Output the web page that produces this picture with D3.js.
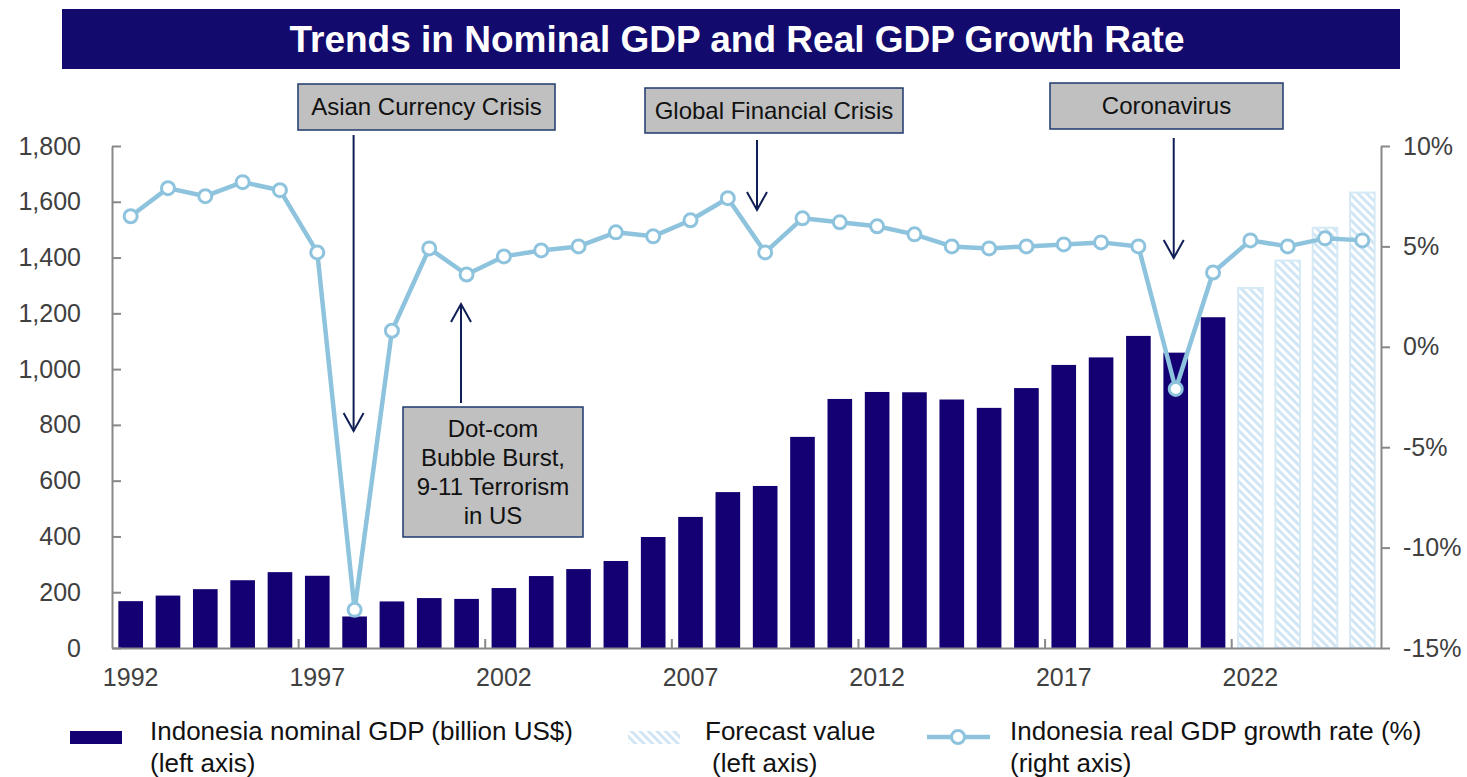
<!DOCTYPE html>
<html>
<head>
<meta charset="utf-8">
<script src="https://cdn.jsdelivr.net/npm/d3@7"></script>
<style>
  body { margin: 0; background: #fff; }
  svg { display: block; font-family: "Liberation Sans", Arial, sans-serif; }
  .axis path, .axis line { stroke: #888; stroke-width: 2; }
  .axis text { fill: #404040; font-size: 25px; font-family: "Liberation Sans", Arial, sans-serif; }
</style>
</head>
<body>
<div id="canvas"></div>
<script>
// ---- DATA ----
var years = d3.range(1992, 2026);
var gdpActual = [168, 188, 211, 243, 272, 259, 113, 167, 179, 176,
                 215, 258, 283, 312, 398, 470, 559, 581, 757, 893,
                 918, 917, 891, 861, 932, 1015, 1042, 1119, 1059, 1186];
var gdpForecast = [1291, 1389, 1507, 1633];
var growth = [6.5, 7.9, 7.5, 8.2, 7.8, 4.7, -13.1, 0.8, 4.9, 3.6,
              4.5, 4.8, 5.0, 5.7, 5.5, 6.3, 7.4, 4.7, 6.4, 6.2,
              6.0, 5.6, 5.0, 4.9, 5.0, 5.1, 5.2, 5.0, -2.1, 3.7,
              5.3, 5.0, 5.4, 5.3];
var labelYears = [1992, 1997, 2002, 2007, 2012, 2017, 2022];
var leftTicks = [0, 200, 400, 600, 800, 1000, 1200, 1400, 1600, 1800];
var rightTicks = [-15, -10, -5, 0, 5, 10];

var gdp = years.map(function(y, i) {
    var forecast = i >= gdpActual.length;
    return { year: y, value: forecast ? gdpForecast[i - gdpActual.length] : gdpActual[i], forecast: forecast };
});
var line = years.map(function(y, i) { return { year: y, value: growth[i] }; });

// ---- CONVENTIONS ----
var W = 1467, H = 777;
var plotLeft = 112, plotRight = 1381, plotTop = 146, plotBottom = 648;

var svg = d3.select('#canvas').append('svg')
    .attr('width', W).attr('height', H);

// diagonal hatch for the forecast bars
var defs = svg.append('defs');
var pat = defs.append('pattern')
    .attr('id', 'hatch')
    .attr('patternUnits', 'userSpaceOnUse')
    .attr('width', 6).attr('height', 6)
    .attr('patternTransform', 'rotate(-45)');
pat.append('rect').attr('width', 6).attr('height', 6).attr('fill', '#ffffff');
pat.append('rect').attr('width', 3).attr('height', 6).attr('fill', '#d0e6f4');

// ---- SCALES ----
var scaleX = d3.scaleBand().domain(years).range([plotLeft, plotRight])
    .paddingInner(0.34).paddingOuter(0.17);
var scaleY = d3.scaleLinear().domain([0, 1800]).range([plotBottom, plotTop]);
var scaleY2 = d3.scaleLinear().domain([-15, 10]).range([plotBottom, plotTop]);
var cx = function(y) { return scaleX(y) + scaleX.bandwidth() / 2; };

// ---- TITLE ----
svg.append('rect').attr('x', 62).attr('y', 9).attr('width', 1338).attr('height', 60)
    .attr('fill', '#130a6e');
svg.append('text').attr('x', 737).attr('y', 52).attr('text-anchor', 'middle')
    .attr('fill', '#fff').attr('font-size', 37).attr('font-weight', 'bold')
    .text('Trends in Nominal GDP and Real GDP Growth Rate');

// ---- BARS ----
svg.append('g').selectAll('rect').data(gdp).enter().append('rect')
    .attr('x', function(d) { return scaleX(d.year); })
    .attr('y', function(d) { return scaleY(d.value); })
    .attr('width', scaleX.bandwidth())
    .attr('height', function(d) { return plotBottom - scaleY(d.value); })
    .attr('fill', function(d) { return d.forecast ? 'url(#hatch)' : '#140072'; })
    .attr('stroke', function(d) { return d.forecast ? '#d6eaf6' : 'none'; })
    .attr('stroke-width', 2);

// ---- AXES ----
var axisL = d3.axisLeft(scaleY).tickValues(leftTicks).tickSize(-9).tickSizeOuter(0)
    .tickPadding(31).tickFormat(d3.format(','));
svg.append('g').attr('class', 'axis').attr('transform', 'translate(' + plotLeft + ',0)').call(axisL);

var axisR = d3.axisRight(scaleY2).tickValues(rightTicks).tickSize(9).tickSizeOuter(0)
    .tickPadding(13).tickFormat(function(d) { return d + '%'; });
svg.append('g').attr('class', 'axis').attr('transform', 'translate(' + plotRight + ',0)').call(axisR);

var axisB = d3.axisBottom(scaleX).tickValues(labelYears).tickSize(0).tickSizeOuter(0).tickPadding(27);
var gB = svg.append('g').attr('class', 'axis').attr('transform', 'translate(0,' + plotBottom + ')').call(axisB);
gB.selectAll('.tick text').attr('dy', '0.45em');
var step = scaleX.step();
gB.selectAll('.mark').data(labelYears.slice(1)).enter().append('line')
    .attr('x1', function(d) { return scaleX(d) - step * 0.17; })
    .attr('x2', function(d) { return scaleX(d) - step * 0.17; })
    .attr('y1', 0).attr('y2', -9);

// ---- LINE ----
var lineGenerator = d3.line()
    .x(function(d) { return cx(d.year); })
    .y(function(d) { return scaleY2(d.value); });
svg.append('path').datum(line).attr('d', lineGenerator)
    .attr('fill', 'none').attr('stroke', '#8ec3de').attr('stroke-width', 4.5)
    .attr('stroke-linejoin', 'round');
svg.append('g').selectAll('circle').data(line).enter().append('circle')
    .attr('cx', function(d) { return cx(d.year); })
    .attr('cy', function(d) { return scaleY2(d.value); })
    .attr('r', 6.5).attr('fill', '#fff').attr('stroke', '#8ec3de').attr('stroke-width', 3);

// ---- ANNOTATIONS ----
var navy = '#0f1f55';
function box(x, y, w, h, lines, lh) {
    svg.append('rect').attr('x', x).attr('y', y).attr('width', w).attr('height', h)
        .attr('fill', '#c0c0c0').attr('stroke', '#1f3a6e').attr('stroke-width', 1.5);
    var t = svg.append('text').attr('text-anchor', 'middle').attr('font-size', 24).attr('fill', '#111');
    var y0 = y + h / 2 - (lines.length - 1) * lh / 2 + 8;
    lines.forEach(function(s, i) {
        t.append('tspan').attr('x', x + w / 2).attr('y', y0 + i * lh).text(s);
    });
}
function arrow(x, y1, y2) {
    var dir = y2 > y1 ? -1 : 1;
    svg.append('line').attr('x1', x).attr('x2', x).attr('y1', y1).attr('y2', y2)
        .attr('stroke', navy).attr('stroke-width', 2);
    svg.append('path')
        .attr('d', 'M' + (x - 10) + ',' + (y2 + dir * 18) + 'L' + x + ',' + y2 + 'L' + (x + 10) + ',' + (y2 + dir * 18))
        .attr('fill', 'none').attr('stroke', navy).attr('stroke-width', 2);
}
box(298, 84, 257, 46, ['Asian Currency Crisis'], 0);
arrow(cx(1998) - 1, 135, 431);
box(645, 88, 258, 45, ['Global Financial Crisis'], 0);
arrow(757, 140, 210);
box(1050, 83, 233, 46, ['Coronavirus'], 0);
arrow(cx(2020) - 2, 138, 258);
box(403, 407, 180, 130, ['Dot-com', 'Bubble Burst,', '9-11 Terrorism', 'in US'], 29);
arrow(461, 403, 304);

// ---- LEGEND ----
var lg = svg.append('g').attr('font-size', 26).attr('fill', '#111');
lg.append('rect').attr('x', 70).attr('y', 731).attr('width', 52).attr('height', 13).attr('fill', '#140072');
lg.append('text').attr('x', 150).attr('y', 740).text('Indonesia nominal GDP (billion US$)');
lg.append('text').attr('x', 150).attr('y', 772).text('(left axis)');
lg.append('rect').attr('x', 628).attr('y', 731).attr('width', 52).attr('height', 13).attr('fill', 'url(#hatch)');
lg.append('text').attr('x', 705).attr('y', 740).text('Forecast value');
lg.append('text').attr('x', 712).attr('y', 772).text('(left axis)');
lg.append('line').attr('x1', 927).attr('x2', 990).attr('y1', 737).attr('y2', 737)
    .attr('stroke', '#8ec3de').attr('stroke-width', 4.5);
lg.append('circle').attr('cx', 958).attr('cy', 737).attr('r', 6.5)
    .attr('fill', '#fff').attr('stroke', '#8ec3de').attr('stroke-width', 3);
lg.append('text').attr('x', 1010).attr('y', 740).text('Indonesia real GDP growth rate (%)');
lg.append('text').attr('x', 1010).attr('y', 772).text('(right axis)');
</script>
</body>
</html>
